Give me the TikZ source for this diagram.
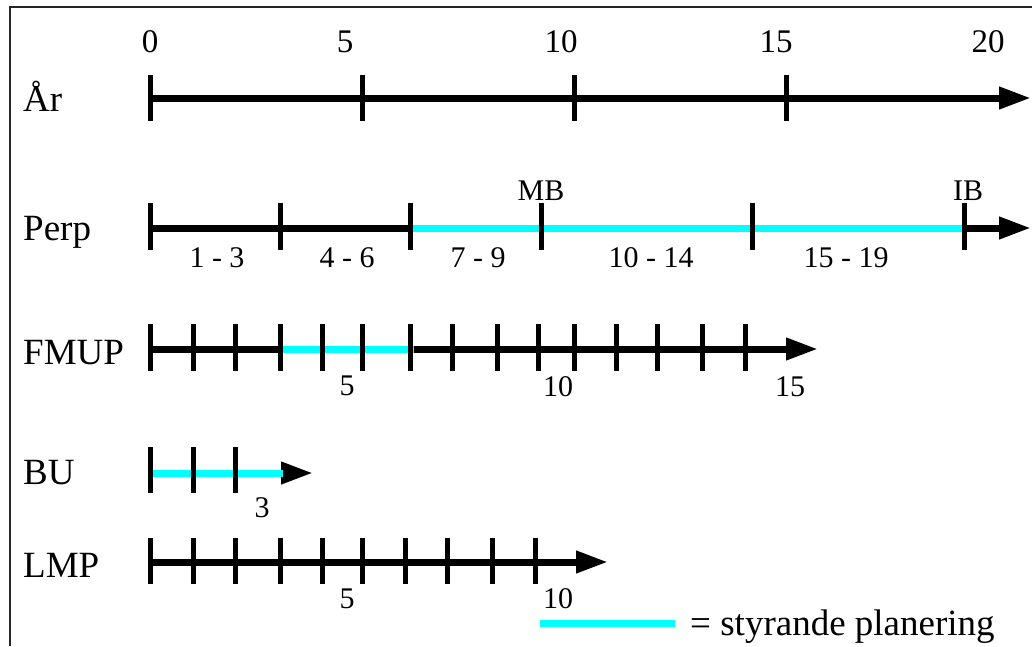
\documentclass[tikz,border=0pt]{standalone}
\usepackage{fontspec}
\setmainfont{Liberation Serif}
\usetikzlibrary{arrows.meta}
\definecolor{plancyan}{RGB}{0,255,255}
\tikzset{
  axisline/.style={line width=7pt, black, -{Triangle[length=32pt,width=21pt]}},
  planseg/.style={line width=7pt, plancyan},
  tick/.style={line width=5pt, black},
  rowlabel/.style={anchor=base west, inner sep=0pt, font=\fontsize{37}{41}\selectfont},
  yearnum/.style={anchor=base, inner sep=0pt, font=\fontsize{33}{38}\selectfont},
  smalllabel/.style={anchor=base, inner sep=0pt, font=\fontsize{30}{34}\selectfont},
  frameline/.style={line width=2.5pt, black!85}
}
\begin{document}
\begin{tikzpicture}[x=1pt, y=-1pt]
\useasboundingbox (0,0) rectangle (1032,646);

% frame (left and top edges)
\draw[frameline] (10,646) -- (10,7) -- (1032,7);

% ---- years row ----
\foreach \x/\t in {150/0, 345/5, 561/10, 776/15, 988/20}
  \node[yearnum] (yr\t) at (\x,52) {\t};
\node[rowlabel] (lab-ar) at (23,111) {År};
\coordinate (ar-s) at (150,98);
\coordinate (ar-e) at (1031,98);
\draw[axisline] (ar-s) -- (ar-e);
\foreach \x in {150,362,574,786}
  \draw[tick] (\x,75) -- (\x,121);

% ---- Perp row ----
\node[rowlabel] (lab-perp) at (23,240) {Perp};
\coordinate (perp-s) at (150,228);
\coordinate (perp-e) at (1031,228);
\coordinate (perp-c1) at (410,228);
\coordinate (perp-c2) at (967,228);
\draw[axisline] (perp-s) -- (perp-e);
\draw[planseg] (perp-c1) -- (perp-c2);
\foreach \x in {150,280,410,541,752,964}
  \draw[tick] (\x,203) -- (\x,250);
\node[smalllabel] (pl1) at (217,267) {1 - 3};
\node[smalllabel] (pl2) at (347,267) {4 - 6};
\node[smalllabel] (pl3) at (478,267) {7 - 9};
\node[smalllabel] (pl4) at (651,267) {10 - 14};
\node[smalllabel] (pl5) at (846,267) {15 - 19};
\node[smalllabel] (mb) at (541,200) {MB};
\node[smalllabel] (ib) at (968,200) {IB};

% ---- FMUP row ----
\node[rowlabel] (lab-fmup) at (23,364) {FMUP};
\coordinate (fm-s) at (150,349);
\coordinate (fm-e) at (818,349);
\coordinate (fm-c1) at (280,349);
\coordinate (fm-c2) at (414,349);
\draw[axisline] (fm-s) -- (fm-e);
\draw[planseg] (fm-c1) -- (fm-c2);
\foreach \x in {150,193,235,280,322,362,410,452,497,538,574,616,657,702,745}
  \draw[tick] (\x,324) -- (\x,371);
\node[smalllabel] (fm5) at (347,395) {5};
\node[smalllabel] (fm10) at (558,396) {10};
\node[smalllabel] (fm15) at (790,396) {15};

% ---- BU row ----
\node[rowlabel] (lab-bu) at (23,484) {BU};
\coordinate (bu-s) at (150,473);
\coordinate (bu-e) at (313,473);
\coordinate (bu-c2) at (283,473);
\draw[axisline] (bu-s) -- (bu-e);
\draw[planseg] (bu-s) -- (bu-c2);
\foreach \x in {150,193,235}
  \draw[tick] (\x,447) -- (\x,493);
\node[smalllabel] (bu3) at (262,517) {3};

% ---- LMP row ----
\node[rowlabel] (lab-lmp) at (23,577) {LMP};
\coordinate (lm-s) at (150,562);
\coordinate (lm-e) at (608,562);
\draw[axisline] (lm-s) -- (lm-e);
\foreach \x in {150,193,235,280,322,362,405,447,492,535}
  \draw[tick] (\x,538) -- (\x,584);
\node[smalllabel] (lm5) at (347,608) {5};
\node[smalllabel] (lm10) at (558,608) {10};

% ---- legend ----
\coordinate (leg-s) at (540,623);
\coordinate (leg-e) at (675,623);
\draw[planseg] (leg-s) -- (leg-e);
\node[rowlabel] (leg-text) at (690,635) {= styrande planering};
\end{tikzpicture}
\end{document}
